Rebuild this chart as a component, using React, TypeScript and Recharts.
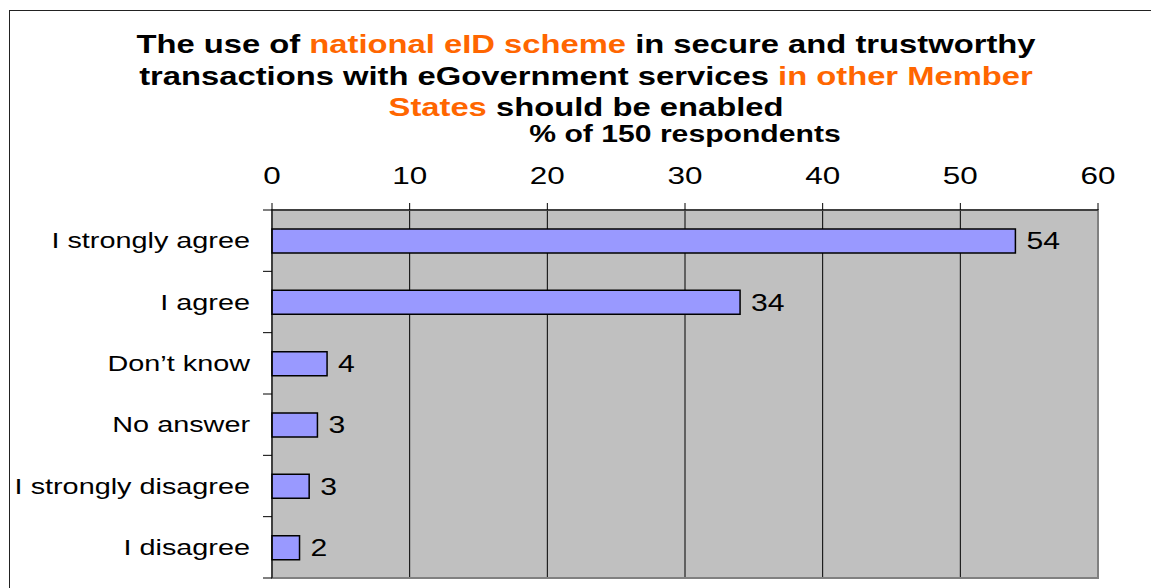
import { Bar, BarChart, CartesianGrid, LabelList, ReferenceArea, XAxis, YAxis } from 'recharts'

const categories = ['I strongly agree', 'I agree', 'Don’t know', 'No answer', 'I strongly disagree', 'I disagree']
// bar lengths; labels show them rounded
const values = [54, 34, 4, 3.3, 2.7, 2]
const xTicks = [0, 10, 20, 30, 40, 50, 60]

const data = categories.map((name, i) => ({ name, value: values[i] }))

const FONT = 'Arial, "Liberation Sans", sans-serif'
const ORANGE = '#FF6600'
// the original picture is stretched sideways, so text gets the same squash
const SX = 1.31

function TopTick(props: any) {
  const { x, y, payload } = props
  return (
    <g transform={`translate(${x},${y}) scale(${SX},1)`}>
      <text x={0} y={0} textAnchor="middle" fontSize={24} fontFamily={FONT} fill="#000">
        {payload.value}
      </text>
    </g>
  )
}

function CategoryTick(props: any) {
  const { x, y, payload, index } = props
  const off = payload.offset || 0
  const axisX = 272
  return (
    <g>
      <line x1={axisX - 9} x2={axisX} y1={y - off} y2={y - off} stroke="#000" />
      {index === categories.length - 1 && (
        <line x1={axisX - 9} x2={axisX} y1={y + off} y2={y + off} stroke="#000" />
      )}
      <g transform={`translate(${x},${y}) scale(${SX},1)`}>
        <text x={0} y={0} dy="0.35em" textAnchor="end" fontSize={22} fontFamily={FONT} fill="#000">
          {payload.value}
        </text>
      </g>
    </g>
  )
}

function ValueLabel(props: any) {
  const { x, y, width, height, value } = props
  const lx = Number(x) + Number(width) + 11
  const ly = Number(y) + Number(height) / 2
  return (
    <g transform={`translate(${lx},${ly}) scale(${SX},1)`}>
      <text x={0} y={0} dy="0.36em" textAnchor="start" fontSize={23} fontFamily={FONT} fill="#000">
        {Math.round(Number(value))}
      </text>
    </g>
  )
}

export default function App() {
  return (
    <div
      style={{
        position: 'absolute',
        left: 0,
        top: 0,
        width: 1151,
        height: 588,
        overflow: 'hidden',
        background: '#fff',
        fontFamily: FONT,
      }}
    >
      {/* outer frame, runs off the right and bottom edges */}
      <div
        style={{
          position: 'absolute',
          left: 9,
          top: 10,
          width: 1300,
          height: 800,
          border: '1.5px solid #222',
        }}
      />

      <div
        style={{
          position: 'absolute',
          left: 0,
          top: 29,
          width: 1172,
          textAlign: 'center',
          fontWeight: 'bold',
          fontSize: 25,
          lineHeight: '31.5px',
          color: '#000',
          transform: `scaleX(${SX})`,
          transformOrigin: '586px 0',
        }}
      >
        The use of <span style={{ color: ORANGE }}>national eID scheme</span> in secure and trustworthy
        <br />
        transactions with eGovernment services <span style={{ color: ORANGE }}>in other Member</span>
        <br />
        <span style={{ color: ORANGE }}>States</span> should be enabled
      </div>

      <div
        style={{
          position: 'absolute',
          left: 685,
          top: 123,
          whiteSpace: 'nowrap',
          fontWeight: 'bold',
          fontSize: 23,
          lineHeight: '23px',
          color: '#000',
          transform: `translateX(-50%) scaleX(${SX})`,
        }}
      >
        % of 150 respondents
      </div>

      <div style={{ position: 'absolute', left: 0, top: 0 }}>
        <BarChart
          width={1151}
          height={588}
          data={data}
          layout="vertical"
          margin={{ top: 130, right: 53, bottom: 10, left: 0 }}
          barSize={24}
        >
          <CartesianGrid fill="#C0C0C0" stroke="#000" horizontal={false} vertical={true} />
          <ReferenceArea x1={0} x2={60} fill="none" stroke="#808080" strokeWidth={2} ifOverflow="extendDomain" />
          <XAxis
            type="number"
            orientation="top"
            domain={[0, 60]}
            ticks={xTicks}
            height={80}
            stroke="#000"
            tickSize={7}
            tickMargin={19}
            tick={<TopTick />}
            interval={0}
          />
          <YAxis
            type="category"
            dataKey="name"
            width={272}
            stroke="#000"
            tickLine={false}
            tickSize={9}
            tickMargin={13}
            tick={<CategoryTick />}
            interval={0}
          />
          <Bar dataKey="value" fill="#9999FF" stroke="#000" strokeWidth={1.5} isAnimationActive={false}>
            <LabelList dataKey="value" content={<ValueLabel />} />
          </Bar>
        </BarChart>
      </div>
    </div>
  )
}
